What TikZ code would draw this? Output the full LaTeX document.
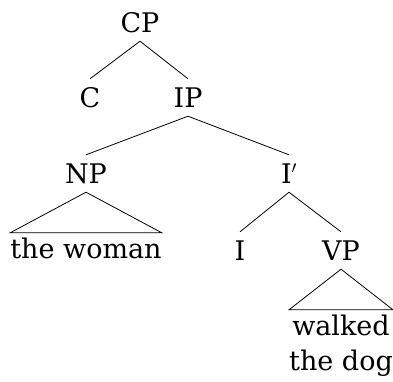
\documentclass[tikz,border=0pt]{standalone}
\usepackage{fontspec}
\setmainfont{DejaVu Serif}
\begin{document}
\begin{tikzpicture}[x=1pt,y=-1pt,
  lab/.style={font=\fontsize{27}{35}\selectfont, inner xsep=0pt, inner ysep=9pt, text height=19pt, text depth=0pt},
  leaf/.style={font=\fontsize{27}{35}\selectfont, inner xsep=0pt, inner ysep=5pt, text height=20pt, text depth=6pt},
  edge/.style={line width=0.8pt}]
\useasboundingbox (0,0) rectangle (393,381);
\node[lab, anchor=base] (CP) at (140,32) {CP};
\node[lab, anchor=base] (C) at (90,107) {C};
\node[lab, anchor=base] (IP) at (188,107) {IP};
\node[lab, anchor=base] (NP) at (86,183) {NP};
\node[lab, anchor=base] (Ib) at (289,183) {I$'$};
\node[leaf, anchor=base] (woman) at (86,258) {the woman};
\node[lab, anchor=base] (I) at (240,260) {I};
\node[lab, anchor=base] (VP) at (341,260) {VP};
\node[leaf, anchor=base] (walked) at (341,335) {\begin{tabular}[t]{@{}c@{}}walked\\the dog\end{tabular}};
\draw[edge] (CP.south) -- (C.north);
\draw[edge] (CP.south) -- (IP.north);
\draw[edge] (IP.south) -- (NP.north);
\draw[edge] (IP.south) -- (Ib.north);
\draw[edge] (Ib.south) -- (I.north);
\draw[edge] (Ib.south) -- (VP.north);
\draw[edge] (NP.south) -- (woman.north west) -- (woman.north east) -- cycle;
\draw[edge] (VP.south) -- (walked.north west) -- (walked.north east) -- cycle;
\end{tikzpicture}
\end{document}
